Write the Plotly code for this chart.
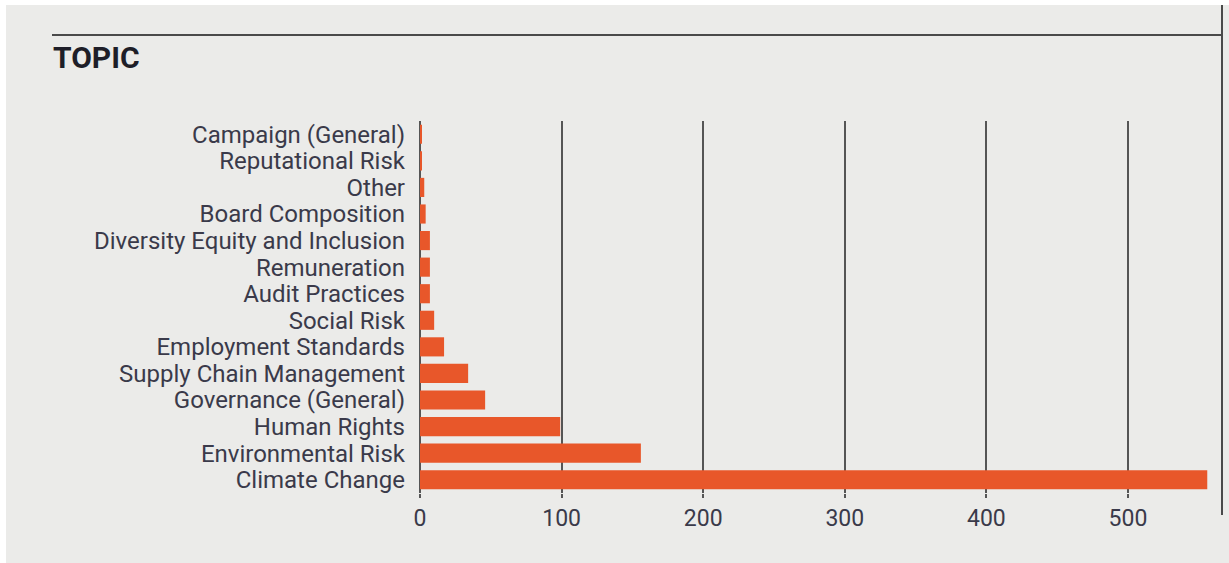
import plotly.graph_objects as go

topics = ["Campaign (General)", "Reputational Risk", "Other", "Board Composition",
          "Diversity Equity and Inclusion", "Remuneration", "Audit Practices", "Social Risk",
          "Employment Standards", "Supply Chain Management", "Governance (General)",
          "Human Rights", "Environmental Risk", "Climate Change"]
counts = [1, 1, 3, 4, 7, 7, 7, 10, 17, 34, 46, 99, 156, 556]
x_ticks = [0, 100, 200, 300, 400, 500]

W, H = 1229, 563
L, R, T, B = 420, 1220, 121, 493

def px(x):
    return (x - L) / (R - L)

def py(y):
    return (B - y) / (B - T)

BG = "#EBEBE9"
FONT = "Roboto, sans-serif"
TXT = "#3a3a4a"

fig = go.Figure(go.Bar(
    x=counts, y=topics, orientation="h",
    marker=dict(color="#E8572A", line=dict(width=0)),
    width=0.72,
))

fig.update_layout(
    width=W, height=H,
    margin=dict(l=L, r=W - R, t=T, b=H - B, pad=0),
    paper_bgcolor=BG, plot_bgcolor=BG,
    showlegend=False,
    font=dict(family=FONT, color=TXT),
    xaxis=dict(range=[0, 565], tickvals=x_ticks, showgrid=True, gridcolor="#555555",
               gridwidth=1.5, zeroline=True, zerolinecolor="#555555", zerolinewidth=1.5,
               ticks="outside", ticklen=4, tickcolor="#555555", tickwidth=1.5,
               tickfont=dict(size=23, color=TXT), showline=False),
    yaxis=dict(categoryorder="array", categoryarray=topics, autorange=None, range=[13.5, -0.5],
               tickmode="array", tickvals=topics, ticktext=topics,
               showgrid=False, zeroline=False, showline=False, ticks="",
               tickfont=dict(size=24, color=TXT), ticklabelstandoff=14),
    shapes=[
        dict(type="rect", xref="paper", yref="paper", x0=px(0), x1=px(W), y0=py(0), y1=py(5),
             fillcolor="white", line=dict(width=0), layer="below"),
        dict(type="rect", xref="paper", yref="paper", x0=px(0), x1=px(6), y0=py(H), y1=py(0),
             fillcolor="white", line=dict(width=0), layer="below"),
        dict(type="line", xref="paper", yref="paper", x0=px(52), x1=px(1222), y0=py(35), y1=py(35),
             line=dict(color="#4a4a4a", width=2)),
        dict(type="line", xref="paper", yref="paper", x0=px(1222), x1=px(1222), y0=py(5), y1=py(515),
             line=dict(color="#4a4a4a", width=2)),
    ],
    annotations=[
        dict(text="<b>TOPIC</b>", xref="paper", yref="paper", x=px(51), y=py(58),
             xanchor="left", yanchor="middle", showarrow=False,
             font=dict(size=30, color="#1e1e28", family=FONT)),
    ],
)

fig.write_html("out.html", config={"displayModeBar": False},
               post_script="document.body.style.margin='0px';document.body.style.overflow='hidden';")
